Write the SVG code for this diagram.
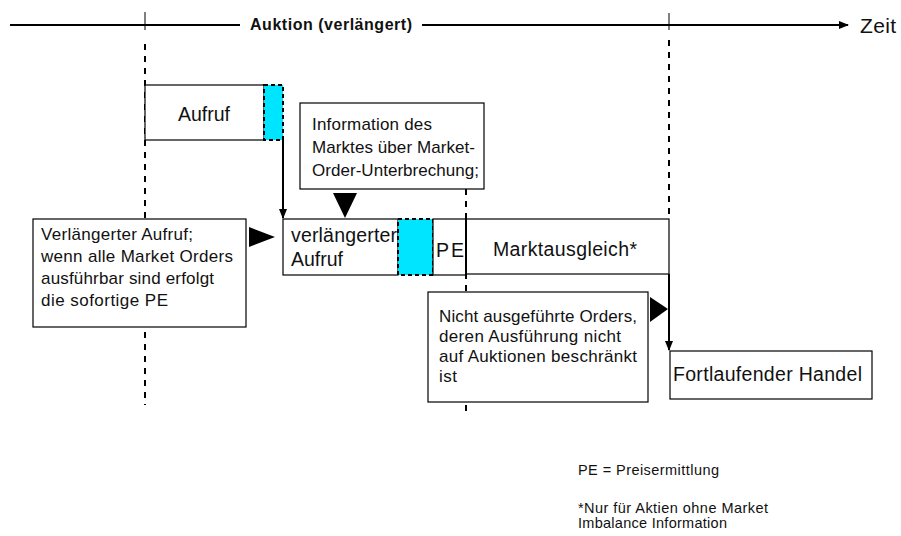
<svg xmlns="http://www.w3.org/2000/svg" width="901" height="536" viewBox="0 0 901 536">
<style>
text{font-family:"Liberation Sans",Arial,sans-serif;fill:#111}
.box{fill:#fff;stroke:#000;stroke-width:1.2}
.cyan{fill:#00e5ff;stroke:#000;stroke-width:2;stroke-dasharray:4 3}
.dash{stroke:#000;stroke-width:2;stroke-dasharray:6 6;fill:none}
.ln{stroke:#000;stroke-width:2;fill:none}
.t18{font-size:19.5px}
.t15{font-size:17px}
.t13{font-size:14.5px}
</style>
<defs>
<marker id="ah" markerWidth="10" markerHeight="10" refX="9" refY="5" orient="auto" markerUnits="userSpaceOnUse">
<path d="M0,1 L10,5 L0,9 Z" fill="#000"/>
</marker>
</defs>
<g id="timeline">
<line class="ln" x1="10" y1="25" x2="240" y2="25"/>
<line class="ln" x1="422" y1="25" x2="848" y2="25" marker-end="url(#ah)"/>
<line stroke="#000" stroke-width="1" x1="145" y1="12" x2="145" y2="30"/>
<line stroke="#000" stroke-width="1" x1="669" y1="13" x2="669" y2="30"/>
<text x="250" y="30" textLength="162" style="font-size:16px;font-weight:bold">Auktion (verlängert)</text>
<text x="860" y="33" textLength="36" style="font-size:21px">Zeit</text>
</g>
<g id="guides">
<line class="dash" x1="145" y1="44" x2="145" y2="405"/>
<line class="dash" x1="669" y1="40" x2="669" y2="220"/>
<line class="dash" x1="466" y1="189" x2="466" y2="412"/>
</g>
<g id="aufruf">
<rect class="box" x="145" y="85" width="119" height="55"/>
<text class="t18" x="178" y="121" textLength="52">Aufruf</text>
</g>
<g id="aufruf-cyan"><rect class="cyan" x="264" y="85" width="19" height="55"/></g>
<g id="info">
<rect class="box" x="300" y="103" width="184" height="86"/>
<text class="t15" x="312" y="130" textLength="120">Information des</text>
<text class="t15" x="312" y="153" textLength="163">Marktes über Market-</text>
<text class="t15" x="312" y="176" textLength="167">Order-Unterbrechung;</text>
</g>
<g id="verlaengert">
<rect class="box" x="283" y="219" width="115" height="56"/>
<text class="t18" x="291" y="242" textLength="106">verlängerter</text>
<text class="t18" x="291" y="266" textLength="52">Aufruf</text>
</g>
<g id="verl-cyan"><rect class="cyan" x="398" y="219" width="35" height="56"/></g>
<g id="pe">
<rect class="box" x="433" y="219" width="33" height="56"/>
<text class="t18" x="436" y="257" textLength="28">PE</text>
</g>
<g id="marktausgleich">
<rect class="box" x="466" y="219" width="203" height="55"/>
<line class="ln" x1="466" y1="219" x2="466" y2="275"/>
<text class="t18" x="493" y="256" textLength="144">Marktausgleich*</text>
</g>
<g id="verl-note">
<rect class="box" x="33" y="219" width="213" height="108"/>
<text class="t15" x="41" y="240" textLength="152">Verlängerter Aufruf;</text>
<text class="t15" x="41" y="262" textLength="192">wenn alle Market Orders</text>
<text class="t15" x="41" y="284" textLength="173">ausführbar sind erfolgt</text>
<text class="t15" x="41" y="306" textLength="127">die sofortige PE</text>
</g>
<g id="nicht-note">
<rect class="box" x="428" y="292" width="220" height="110"/>
<text class="t15" x="439" y="322" textLength="198">Nicht ausgeführte Orders,</text>
<text class="t15" x="439" y="342" textLength="182">deren Ausführung nicht</text>
<text class="t15" x="439" y="362" textLength="198">auf Auktionen beschränkt</text>
<text class="t15" x="439" y="382" textLength="18">ist</text>
</g>
<g id="fortlaufend">
<rect class="box" x="670" y="351" width="202" height="48"/>
<text class="t18" x="673" y="381" textLength="189">Fortlaufender Handel</text>
</g>
<g id="connectors">
<line class="ln" x1="283" y1="140" x2="283" y2="218" marker-end="url(#ah)"/>
<line class="ln" x1="669" y1="274" x2="669" y2="350" marker-end="url(#ah)"/>
<path d="M333,193 L357,193 L345,218 Z" fill="#000"/>
<path d="M249,227 L275,237 L249,247 Z" fill="#000"/>
<path d="M650,297 L668,309 L650,322 Z" fill="#000"/>
</g>
<g id="legend">
<text class="t13" x="578" y="475" textLength="141">PE = Preisermittlung</text>
<text class="t13" x="578" y="513" textLength="190">*Nur für Aktien ohne Market</text>
<text class="t13" x="578" y="528" textLength="149">Imbalance Information</text>
</g>
</svg>
